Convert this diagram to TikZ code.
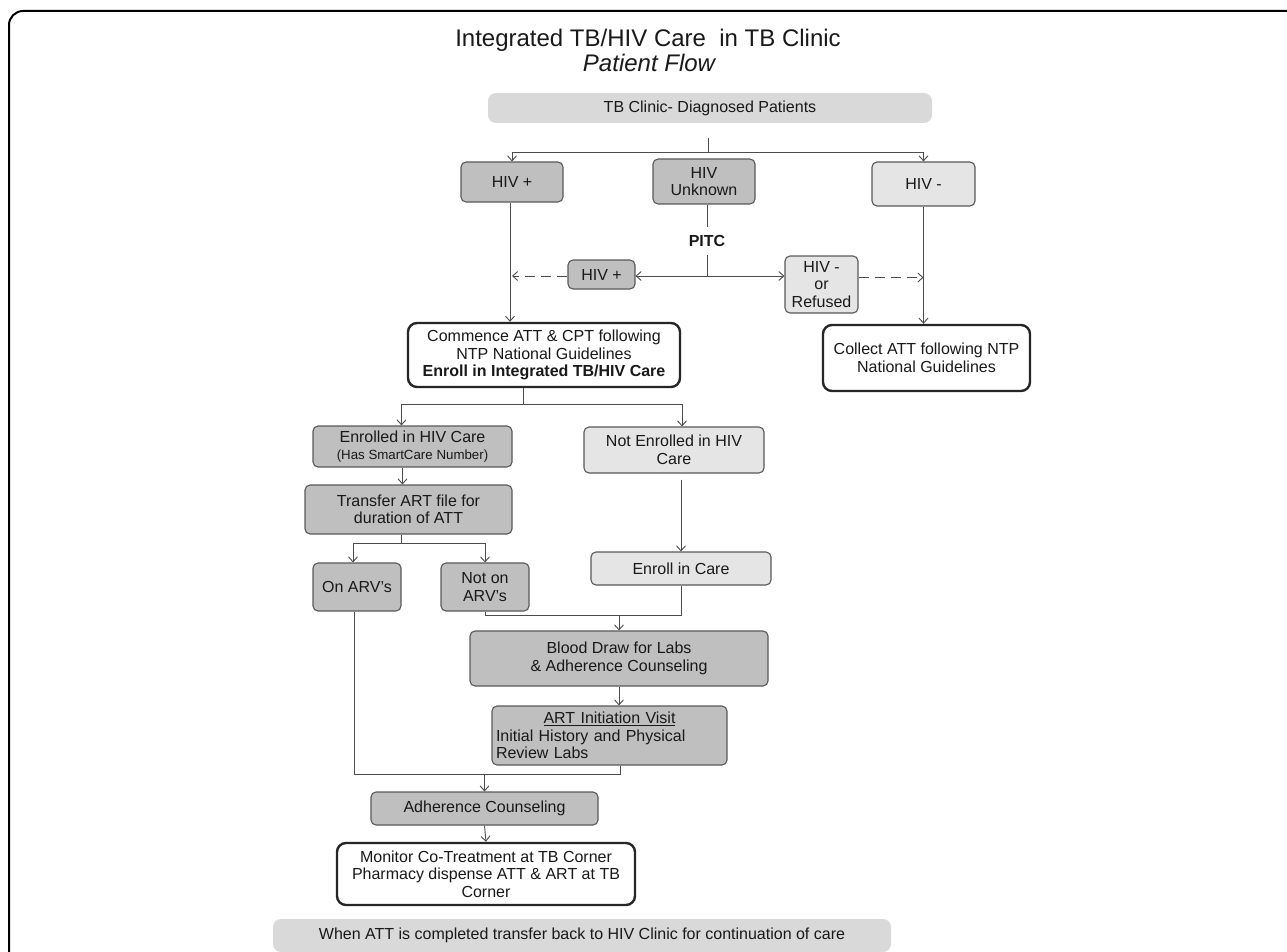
\documentclass[tikz,border=0pt]{standalone}
\usepackage{fontspec}
\setmainfont{Liberation Sans}
\usetikzlibrary{arrows.meta}

\begin{document}
\begin{tikzpicture}[x=1pt,y=-1pt,
  every node/.style={font=\fontsize{16}{17.5}\selectfont, align=center, inner sep=2pt, text=black!90},
  gbox/.style={draw=black!65, line width=1.1pt, fill=black!25, rounded corners=5pt},
  lbox/.style={draw=black!65, line width=1.1pt, fill=black!10, rounded corners=5pt},
  wbox/.style={draw=black!85, line width=2.4pt, fill=white, rounded corners=9pt},
  bar/.style={fill=black!15, rounded corners=8pt},
  link/.style={draw=black!70, line width=0.9pt},
  >={Straight Barb[length=5pt,width=9pt]}]
\useasboundingbox (0,0) rectangle (1287,952);
\draw[line width=2pt, rounded corners=14pt] (9,960) -- (9,11) -- (1295,11);

\node (title) at (648,40) {\fontsize{24}{26}\selectfont Integrated TB/HIV Care\ \ in TB Clinic};
\node (sub) at (649,63) {\fontsize{24}{26}\selectfont\itshape Patient Flow};

\node[bar, minimum width=444, minimum height=30] (tb) at (710,108) {TB Clinic- Diagnosed Patients};
\node[gbox, minimum width=102, minimum height=40] (hp) at (512,182) {HIV +};
\node[gbox, minimum width=102, minimum height=45] (hu) at (704,181.5) {HIV\\Unknown};
\node[lbox, minimum width=103, minimum height=44] (hm) at (923.5,184) {HIV -};
\node[inner sep=8pt, font=\fontsize{16}{17.5}\selectfont\bfseries] (pitc) at (707,241) {PITC};
\node[gbox, minimum width=67, minimum height=29] (hp2) at (601.5,274.5) {HIV +};
\node[lbox, minimum width=73, minimum height=57] (ref) at (821.5,284.5) {HIV -\\or\\Refused};
\node[wbox, minimum width=272, minimum height=64] (comm) at (544,355) {Commence ATT \& CPT following\\NTP National Guidelines\\\textbf{Enroll in Integrated TB/HIV Care}};
\node[wbox, minimum width=207, minimum height=66] (coll) at (926.5,358) {Collect ATT following NTP\\National Guidelines};
\node[gbox, minimum width=199, minimum height=41] (enr) at (412.5,446.5) {Enrolled in HIV Care\\[-1pt]{\fontsize{13.3}{15}\selectfont(Has SmartCare Number)}};
\node[lbox, minimum width=180, minimum height=46] (nenr) at (674,450) {Not Enrolled in HIV\\Care};
\node[gbox, minimum width=207, minimum height=49] (tr) at (408.5,509.5) {Transfer ART file for\\duration of ATT};
\node[gbox, minimum width=88, minimum height=48] (on) at (357,587) {On ARV's};
\node[gbox, minimum width=88, minimum height=48] (noton) at (485,587) {Not on\\ARV's};
\node[lbox, minimum width=180, minimum height=33] (eic) at (681,568.5) {Enroll in Care};
\node[gbox, minimum width=298, minimum height=55] (blood) at (619,658.5) {Blood Draw for Labs\\\& Adherence Counseling};
\node[gbox, minimum width=235, minimum height=59, text width=227, align=left] (art) at (609.5,735.5) {{\centering\underline{ART Initiation Visit}\par}Initial History and Physical\\Review Labs};
\node[gbox, minimum width=227, minimum height=33] (adh) at (484.5,808.5) {Adherence Counseling};
\node[wbox, minimum width=298, minimum height=62] (mon) at (486,874) {Monitor Co-Treatment at TB Corner\\Pharmacy dispense ATT \& ART at TB\\Corner};
\node[bar, minimum width=618, minimum height=33] (last) at (582,935.5) {When ATT is completed transfer back to HIV Clinic for continuation of care};

\coordinate (j1) at (708,152);
\coordinate (j2) at (523,404);
\coordinate (j4) at (619,615);
\coordinate (j5) at (620,774);

\draw[link] (j1 |- 0,138) -- (j1);
\draw[link,->] (j1) -| (hp.north);
\draw[link,->] (j1) -| (hm.north);
\draw[link] (pitc.north |- hu.south) -- (pitc.north);
\draw[link] (pitc.south) -- (pitc.south |- 0,276);
\draw[link,<->] ([yshift=-1.5pt]hp2.east) -- ([yshift=-1.5pt]hp2.east -| ref.west);
\draw[link,dashed,dash pattern=on 10pt off 6pt,->] ([yshift=-1.5pt]hp2.west) -- ([yshift=-1.5pt]hp2.west -| hp.south);
\draw[link,dashed,dash pattern=on 10pt off 6pt,->] ([yshift=7pt]ref.east) -- ([yshift=7pt]ref.east -| hm.south);
\draw[link,->] ([xshift=-2pt]hp.south) -- ([xshift=-2pt]hp.south |- comm.north);
\draw[link,->] (hm.south) -- (hm.south |- coll.north);

\draw[link] (j2 |- comm.south) -- (j2);
\draw[link,->] (j2) -| ([xshift=-11pt]enr.north);
\draw[link,->] (j2) -| ([xshift=8pt]nenr.north);
\draw[link,->] ([xshift=-10pt]enr.south) -- ([xshift=-10pt]enr.south |- tr.north);
\draw[link] ([xshift=-7pt]tr.south) -- ++(0,9) coordinate (j3);
\draw[link,->] (j3) -| ([xshift=-4pt]on.north);
\draw[link,->] (j3) -| (noton.north);
\draw[link,->] ([yshift=-6pt]nenr.south -| eic.north) -- (eic.north);
\draw[link] (noton.south) |- (j4 -| eic.south) -- (eic.south);
\draw[link,->] (j4) -- (blood.north);
\draw[link,->] (blood.south) -- (blood.south |- art.north);
\draw[link] ([xshift=-3pt]on.south) |- (j5) -- (j5 |- art.south);
\draw[link,->] (adh.north |- j5) -- (adh.north);
\draw[link,->] (adh.south) -- (mon.north);
\end{tikzpicture}
\end{document}
